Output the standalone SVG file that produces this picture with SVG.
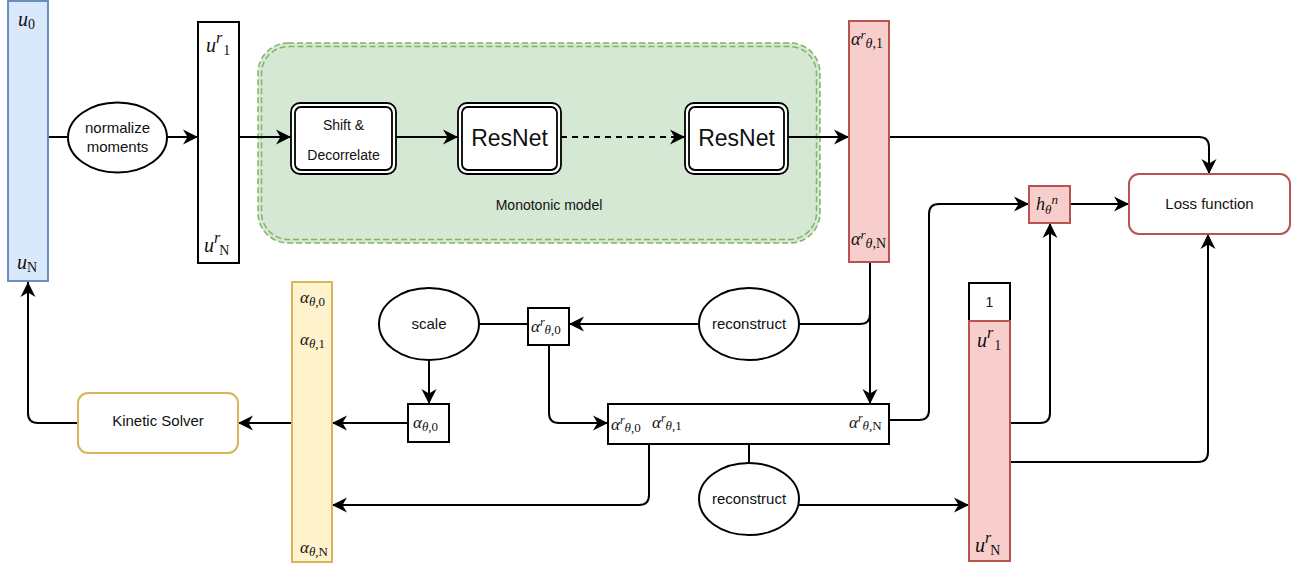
<svg xmlns="http://www.w3.org/2000/svg" width="1294" height="569" viewBox="0 0 1294 569">
  <style>
    .lbl { font-family: "Liberation Sans", Arial, sans-serif; fill: #111; text-anchor: middle; }
    .m { font-family: "Liberation Serif", "DejaVu Serif", serif; fill: #111; }
    .i { font-style: italic; }
    .edge { fill: none; stroke: #000; stroke-width: 2; }
    .arr { marker-end: url(#head); }
    .plain { fill: #fff; stroke: #000; stroke-width: 2; }
    .blue { fill: #dae8fc; stroke: #6c8ebf; stroke-width: 2; }
    .red { fill: #f8cecc; stroke: #b85450; stroke-width: 2; }
    .yellow { fill: #fff2cc; stroke: #d6b656; stroke-width: 2; }
    .dbl { fill: #fff; stroke: #000; stroke-width: 1.8; }
    .grp { fill: none; stroke: #82b366; stroke-width: 1.5; stroke-dasharray: 6 3; }
  </style>
  <defs>
    <marker id="head" markerUnits="userSpaceOnUse" viewBox="-17 -9 18 18" markerWidth="18" markerHeight="18" refX="0" refY="0" orient="auto">
      <path d="M0,0 L-15,-7.5 L-10.5,0 L-15,7.5 Z" fill="#000"/>
    </marker>
  </defs>

  <!-- monotonic model container -->
  <g id="monotonic-model">
    <rect x="258" y="43" width="562" height="200" rx="30" fill="#d5e8d4"/>
    <rect class="grp" x="258" y="43" width="562" height="200" rx="30"/>
    <rect class="grp" x="261.5" y="46.5" width="555" height="193" rx="27"/>
    <text class="lbl" x="549" y="210" font-size="14">Monotonic model</text>
  </g>

  <!-- connectors -->
  <g id="connectors">
    <path class="edge" d="M48,137 H68"/>
    <path class="edge arr" d="M167,137 H198"/>
    <path class="edge arr" d="M239,137 H291"/>
    <path class="edge arr" d="M396,137 H458"/>
    <path class="edge arr" d="M561,137 H685" stroke-dasharray="6 5"/>
    <path class="edge arr" d="M788,137 H849"/>
    <path class="edge arr" d="M889,137 H1199 Q1209,137 1209,147 V174"/>
    <path class="edge arr" d="M870,262 V404"/>
    <path class="edge" d="M870,262 V314 Q870,324 860,324 H799"/>
    <path class="edge arr" d="M699,324 H569"/>
    <path class="edge" d="M528,324 H479"/>
    <path class="edge arr" d="M429,360 V404"/>
    <path class="edge arr" d="M408,423 H332"/>
    <path class="edge arr" d="M549,345 V413 Q549,423 559,423 H608"/>
    <path class="edge arr" d="M649,444 V495 Q649,505 639,505 H332"/>
    <path class="edge" d="M749,444 V463"/>
    <path class="edge arr" d="M799,505 H969"/>
    <path class="edge arr" d="M889,420 H919 Q929,420 929,410 V214 Q929,204 939,204 H1029"/>
    <path class="edge arr" d="M1070,204 H1129"/>
    <path class="edge arr" d="M1010,423 H1040 Q1050,423 1050,413 V223"/>
    <path class="edge arr" d="M1010,462 H1198 Q1208,462 1208,452 V234"/>
    <path class="edge arr" d="M292,423 H238"/>
    <path class="edge arr" d="M78,423 H38 Q28,423 28,413 V282"/>
  </g>

  <!-- input moments u -->
  <g id="u-moments">
    <rect class="blue" x="8" y="1" width="40" height="280"/>
    <text class="m" x="18" y="26" font-size="20"><tspan class="i">u</tspan><tspan font-size="14" dy="3">0</tspan></text>
    <text class="m" x="17" y="269" font-size="20"><tspan class="i">u</tspan><tspan font-size="14" dy="3">N</tspan></text>
  </g>

  <g id="normalize">
    <ellipse class="plain" cx="117.5" cy="137.5" rx="49.5" ry="35"/>
    <text class="lbl" x="117.5" y="133" font-size="15">normalize</text>
    <text class="lbl" x="117.5" y="152" font-size="15">moments</text>
  </g>

  <g id="u-reduced">
    <rect class="plain" x="198" y="22" width="41" height="241"/>
    <text class="m" x="206" y="52" font-size="20"><tspan class="i">u</tspan><tspan class="i" font-size="16" dy="-9">r</tspan><tspan font-size="14" dx="1" dy="12">1</tspan></text>
    <text class="m" x="204" y="252" font-size="20"><tspan class="i">u</tspan><tspan class="i" font-size="16" dy="-9">r</tspan><tspan font-size="14" dx="-1" dy="12">N</tspan></text>
  </g>

  <g id="shift-decorrelate">
    <rect class="dbl" x="291" y="103" width="105" height="71" rx="9"/>
    <rect class="dbl" x="295" y="107" width="97" height="63" rx="6"/>
    <text class="lbl" x="343.5" y="130" font-size="14">Shift &amp;</text>
    <text class="lbl" x="343.5" y="160" font-size="14">Decorrelate</text>
  </g>

  <g id="resnet-1">
    <rect class="dbl" x="458" y="103" width="103" height="71" rx="9"/>
    <rect class="dbl" x="462" y="107" width="95" height="63" rx="6"/>
    <text class="lbl" x="509.5" y="146" font-size="23">ResNet</text>
  </g>

  <g id="resnet-2">
    <rect class="dbl" x="685" y="103" width="103" height="71" rx="9"/>
    <rect class="dbl" x="689" y="107" width="95" height="63" rx="6"/>
    <text class="lbl" x="736.5" y="146" font-size="23">ResNet</text>
  </g>

  <g id="alpha-reduced">
    <rect class="red" x="849" y="21" width="40" height="241"/>
    <text class="m" x="851" y="45" font-size="18"><tspan class="i">α</tspan><tspan class="i" font-size="13" dy="-6">r</tspan><tspan font-size="14" dy="9"><tspan class="i">θ</tspan>,1</tspan></text>
    <text class="m" x="851" y="245" font-size="18"><tspan class="i">α</tspan><tspan class="i" font-size="13" dy="-6">r</tspan><tspan font-size="14" dy="9"><tspan class="i">θ</tspan>,N</tspan></text>
  </g>

  <g id="loss-function">
    <rect x="1129" y="174" width="161" height="60" rx="10" fill="#fff" stroke="#b85450" stroke-width="2"/>
    <text class="lbl" x="1209.5" y="209" font-size="15">Loss function</text>
  </g>

  <g id="entropy-h">
    <rect class="red" x="1029" y="186" width="41" height="37"/>
    <text class="m" x="1036" y="210" font-size="18"><tspan class="i">h</tspan><tspan class="i" font-size="13" dy="4">θ</tspan><tspan class="i" font-size="13" dy="-10">n</tspan></text>
  </g>

  <g id="reconstruct-upper">
    <ellipse class="plain" cx="749" cy="324" rx="50" ry="36"/>
    <text class="lbl" x="749" y="329" font-size="15">reconstruct</text>
  </g>

  <g id="alpha-r0">
    <rect class="plain" x="528" y="308" width="41" height="37"/>
    <text class="m" x="531" y="332" font-size="17"><tspan class="i">α</tspan><tspan class="i" font-size="12" dy="-6">r</tspan><tspan font-size="13" dy="8"><tspan class="i">θ</tspan>,0</tspan></text>
  </g>

  <g id="scale">
    <ellipse class="plain" cx="429" cy="324" rx="50" ry="36"/>
    <text class="lbl" x="429" y="329" font-size="15">scale</text>
  </g>

  <g id="alpha-0">
    <rect class="plain" x="408" y="404" width="41" height="38"/>
    <text class="m" x="413" y="428" font-size="17"><tspan class="i">α</tspan><tspan font-size="13" dy="3"><tspan class="i">θ</tspan>,0</tspan></text>
  </g>

  <g id="alpha-full">
    <rect class="yellow" x="292" y="282" width="40" height="280"/>
    <text class="m" x="300" y="303" font-size="17"><tspan class="i">α</tspan><tspan font-size="13" dy="3"><tspan class="i">θ</tspan>,0</tspan></text>
    <text class="m" x="300" y="345" font-size="17"><tspan class="i">α</tspan><tspan font-size="13" dy="3"><tspan class="i">θ</tspan>,1</tspan></text>
    <text class="m" x="300" y="553" font-size="17"><tspan class="i">α</tspan><tspan font-size="13" dy="3"><tspan class="i">θ</tspan>,N</tspan></text>
  </g>

  <g id="kinetic-solver">
    <rect x="78" y="393" width="160" height="60" rx="10" fill="#fff" stroke="#d6b656" stroke-width="2"/>
    <text class="lbl" x="158" y="426" font-size="15">Kinetic Solver</text>
  </g>

  <g id="alpha-r-row">
    <rect class="plain" x="608" y="404" width="281" height="40"/>
    <text class="m" x="611" y="430" font-size="17"><tspan class="i">α</tspan><tspan class="i" font-size="12" dy="-6">r</tspan><tspan font-size="13" dy="8"><tspan class="i">θ</tspan>,0</tspan></text>
    <text class="m" x="652" y="428" font-size="17"><tspan class="i">α</tspan><tspan class="i" font-size="12" dy="-6">r</tspan><tspan font-size="13" dy="8"><tspan class="i">θ</tspan>,1</tspan></text>
    <text class="m" x="849" y="428" font-size="17"><tspan class="i">α</tspan><tspan class="i" font-size="12" dy="-6">r</tspan><tspan font-size="13" dy="8"><tspan class="i">θ</tspan>,N</tspan></text>
  </g>

  <g id="reconstruct-lower">
    <ellipse class="plain" cx="749" cy="499" rx="50" ry="36"/>
    <text class="lbl" x="749" y="504" font-size="15">reconstruct</text>
  </g>

  <g id="u-reconstructed">
    <rect class="plain" x="969" y="283" width="41" height="38"/>
    <text class="lbl" x="989.5" y="307" font-size="14">1</text>
    <rect class="red" x="969" y="321" width="41" height="240"/>
    <text class="m" x="977" y="347" font-size="20"><tspan class="i">u</tspan><tspan class="i" font-size="16" dy="-9">r</tspan><tspan font-size="14" dx="1" dy="12">1</tspan></text>
    <text class="m" x="975" y="552" font-size="20"><tspan class="i">u</tspan><tspan class="i" font-size="16" dy="-9">r</tspan><tspan font-size="14" dx="-1" dy="12">N</tspan></text>
  </g>
</svg>
